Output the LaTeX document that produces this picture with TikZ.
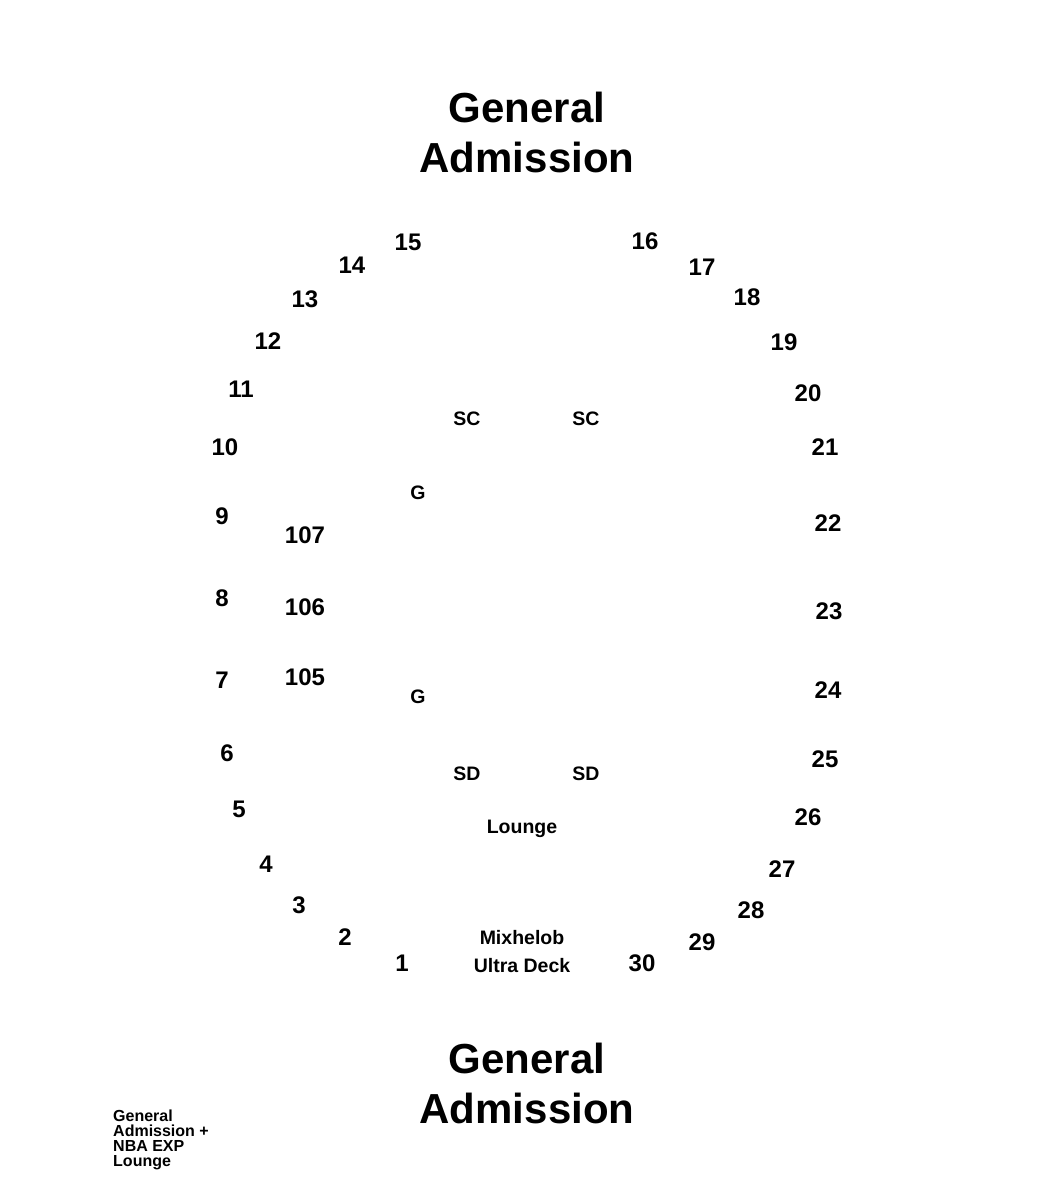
\documentclass[tikz,border=0pt]{standalone}
\usepackage{fontspec}
\setmainfont{Liberation Sans}
\begin{document}
\begin{tikzpicture}[x=1pt,y=-1pt,
  every node/.style={inner sep=0pt,font=\bfseries},
  title/.style={font=\fontsize{42}{50}\selectfont\bfseries,align=center},
  sec/.style={font=\fontsize{24}{28}\selectfont\bfseries},
  small/.style={font=\fontsize{19.5}{22}\selectfont\bfseries},
  note/.style={font=\fontsize{16}{15}\selectfont\bfseries,align=left,anchor=north west}]
\useasboundingbox[fill=white] (0,0) rectangle (1050,1200);
\node[title] (t1) at (527,132) {General\\Admission};
\node[title] (t2) at (527,1083) {General\\Admission};
% left side
\node[sec] (s15) at (408,242) {15};
\node[sec] (s14) at (352,265) {14};
\node[sec] (s13) at (305,299) {13};
\node[sec] (s12) at (268,341) {12};
\node[sec] (s11) at (241,389) {11};
\node[sec] (s10) at (225,447) {10};
\node[sec] (s9) at (222,516) {9};
\node[sec] (s8) at (222,598) {8};
\node[sec] (s7) at (222,680) {7};
\node[sec] (s6) at (227,753) {6};
\node[sec] (s5) at (239,809) {5};
\node[sec] (s4) at (266,864) {4};
\node[sec] (s3) at (299,905) {3};
\node[sec] (s2) at (345,937) {2};
\node[sec] (s1) at (402,963) {1};
% right side
\node[sec] (s16) at (645,241) {16};
\node[sec] (s17) at (702,267) {17};
\node[sec] (s18) at (747,297) {18};
\node[sec] (s19) at (784,342) {19};
\node[sec] (s20) at (808,393) {20};
\node[sec] (s21) at (825,447) {21};
\node[sec] (s22) at (828,523) {22};
\node[sec] (s23) at (829,611) {23};
\node[sec] (s24) at (828,690) {24};
\node[sec] (s25) at (825,759) {25};
\node[sec] (s26) at (808,817) {26};
\node[sec] (s27) at (782,869) {27};
\node[sec] (s28) at (751,910) {28};
\node[sec] (s29) at (702,942) {29};
\node[sec] (s30) at (642,963) {30};
% inner
\node[sec] (s107) at (305,535) {107};
\node[sec] (s106) at (305,607) {106};
\node[sec] (s105) at (305,677) {105};
\node[small] (sc1) at (467,419) {SC};
\node[small] (sc2) at (586,419) {SC};
\node[small] (g1) at (418,493) {G};
\node[small] (g2) at (418,697) {G};
\node[small] (sd1) at (467,774) {SD};
\node[small] (sd2) at (586,774) {SD};
\node[small,anchor=base] (lounge) at (522,833) {Lounge};
\node[small,anchor=base] (mix1) at (522,944) {Mixhelob};
\node[small,anchor=base] (mix2) at (522,972) {Ultra Deck};
\node[note] (ga) at (113,1110) {General\\Admission +\\NBA EXP\\Lounge};
\end{tikzpicture}
\end{document}
